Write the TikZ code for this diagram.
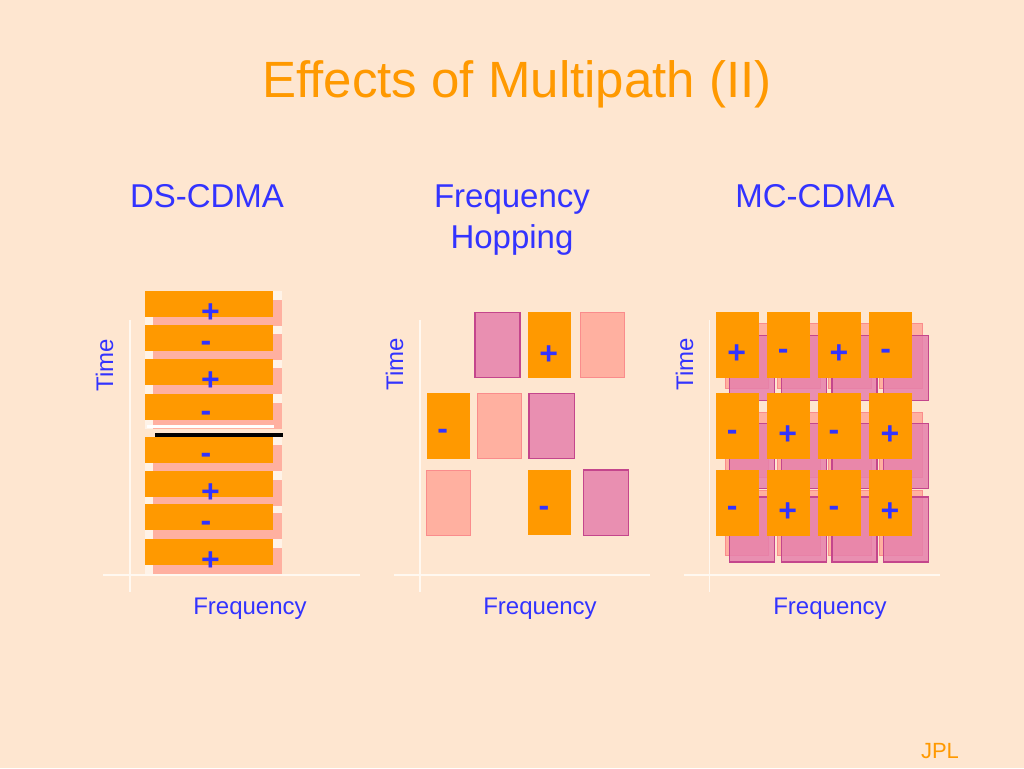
\documentclass[tikz,border=0pt]{standalone}
\usepackage{fontspec}
\setmainfont{Liberation Sans}
\definecolor{bg}{RGB}{254,230,208}
\definecolor{orng}{RGB}{255,153,0}
\definecolor{lpink}{RGB}{255,176,160}
\definecolor{lpinkd}{RGB}{250,140,140}
\definecolor{mag}{RGB}{230,128,172}
\definecolor{magd}{RGB}{196,70,140}
\definecolor{txtblue}{RGB}{51,51,255}
\definecolor{axisc}{RGB}{255,248,240}
\definecolor{pale}{RGB}{255,243,232}
\tikzset{
  orangebox/.style={fill=orng},
  lpinkbox/.style={fill=lpink, draw=lpinkd, line width=1pt},
  magbox/.style={fill=mag, fill opacity=0.85, draw=magd, line width=1.2pt},
  dsshadow/.style={fill=lpink},
  palebox/.style={fill=pale},
  axisline/.style={draw=axisc, line width=1.5pt},
  title/.style={text=orng, font=\fontsize{51}{60}\selectfont, anchor=base, inner sep=0pt},
  heading/.style={text=txtblue, font=\fontsize{33}{40}\selectfont, anchor=base, inner sep=0pt},
  axislbl/.style={text=txtblue, font=\fontsize{24}{28}\selectfont, anchor=base, inner sep=0pt},
  signlbl/.style={text=txtblue, font=\bfseries\fontsize{32}{36}\selectfont, anchor=base, inner sep=0pt},
  jpl/.style={text=orng, font=\fontsize{22}{26}\selectfont, anchor=base, inner sep=0pt}
}
\newcommand{\plussign}[3]{\node[signlbl] (#1) at (#2,#3+11.3) {+};}
\newcommand{\minussign}[3]{\node[signlbl] (#1) at (#2,#3+8.3) {-};}
\begin{document}
\begin{tikzpicture}[x=1pt,y=-1pt]
\useasboundingbox[fill=bg] (0,0) rectangle (1024,768);

% title
\node[title] (title) at (517,97) {Effects of Multipath (II)};

% headings
\node[heading] (hds) at (207,207) {DS-CDMA};
\node[heading] (hfh1) at (512,207) {Frequency};
\node[heading] (hfh2) at (512,248) {Hopping};
\node[heading] (hmc) at (815,207) {MC-CDMA};

% ---------- DS-CDMA ----------
\foreach \t in {291,325,359.3,394.3,436.7,471,504.3,539.3}{
  \fill[palebox] (145,\t) rectangle (282,\t+34.5);
}
\foreach \t in {291,325,359.3,394.3,436.7,471,504.3,539.3}{
  \fill[dsshadow] (153,\t+8.5) rectangle (282,\t+34.5);
  \fill[orangebox] (145,\t) rectangle (273,\t+26);
}
\draw[draw=white, line width=3pt] (146.7,426.7) -- (274,426.7);
\draw[draw=black, line width=3.2pt] (155,435) -- (283,435);
\plussign{d1}{210.5}{311}
\minussign{d2}{206}{343.3}
\plussign{d3}{210.5}{379.3}
\minussign{d4}{206}{412.7}
\minussign{d5}{206}{455}
\plussign{d6}{210.5}{490.7}
\minussign{d7}{206}{522.7}
\plussign{d8}{210.5}{559.3}
\draw[axisline] (130,320) -- (130,591.7);
\draw[axisline] (103,575) -- (360,575);
\node[axislbl, rotate=90] (tds) at (113,365) {Time};
\node[axislbl] (fds) at (250,614) {Frequency};

% ---------- Frequency Hopping ----------
\draw[magbox] (475,312.3) rectangle (520,377.3);
\draw[magbox] (529,393.3) rectangle (574.3,458.7);
\draw[magbox] (583.3,470) rectangle (628.3,535.3);
\draw[lpinkbox] (580,312.3) rectangle (624,377.3);
\draw[lpinkbox] (477.7,393.3) rectangle (521.7,458.7);
\draw[lpinkbox] (426,470) rectangle (470.7,535.3);
\fill[orangebox] (527.7,312.3) rectangle (571,377.7);
\fill[orangebox] (426.7,393.3) rectangle (470,458.7);
\fill[orangebox] (527.7,470) rectangle (571,535.3);
\plussign{f1}{548.8}{352.7}
\minussign{f2}{442.7}{431}
\minussign{f3}{544}{508.3}
\draw[axisline] (420,320) -- (420,591.7);
\draw[axisline] (394,575) -- (650,575);
\node[axislbl, rotate=90] (tfh) at (403,364) {Time};
\node[axislbl] (ffh) at (540,614) {Frequency};

% ---------- MC-CDMA ----------
\foreach \t/\lp/\mg in {312.3/11/23, 393.3/19/30, 470/20/27}{
  \foreach \l in {715.7,767.3,818,869.3}{
    \draw[lpinkbox] (\l+10,\t+\lp) rectangle (\l+53,\t+\lp+65);
  }
}
\foreach \t/\lp/\mg in {312.3/11/23, 393.3/19/30, 470/20/27}{
  \foreach \l in {715.7,767.3,818,869.3}{
    \draw[magbox] (\l+14,\t+\mg) rectangle (\l+59,\t+\mg+65);
  }
}
\foreach \t in {312.3,393.3,470}{
  \foreach \l in {715.7,767.3,818,869.3}{
    \fill[orangebox] (\l,\t) rectangle (\l+43,\t+65.5);
  }
}
\plussign{m11}{736.7}{352.3}
\minussign{m12}{783.3}{350.7}
\plussign{m13}{839}{352.3}
\minussign{m14}{885.7}{350.7}
\minussign{m21}{732.3}{431.7}
\plussign{m22}{787.7}{433.3}
\minussign{m23}{834}{431.7}
\plussign{m24}{890}{433.3}
\minussign{m31}{732.3}{508.3}
\plussign{m32}{787.7}{510}
\minussign{m33}{834}{508.3}
\plussign{m34}{890}{510}
\draw[axisline] (709.3,320) -- (709.3,591.7);
\draw[axisline] (684,575) -- (940,575);
\node[axislbl, rotate=90] (tmc) at (693,364) {Time};
\node[axislbl] (fmc) at (830,614) {Frequency};

% footer
\node[jpl] (jpl) at (940,758) {JPL};
\end{tikzpicture}
\end{document}
